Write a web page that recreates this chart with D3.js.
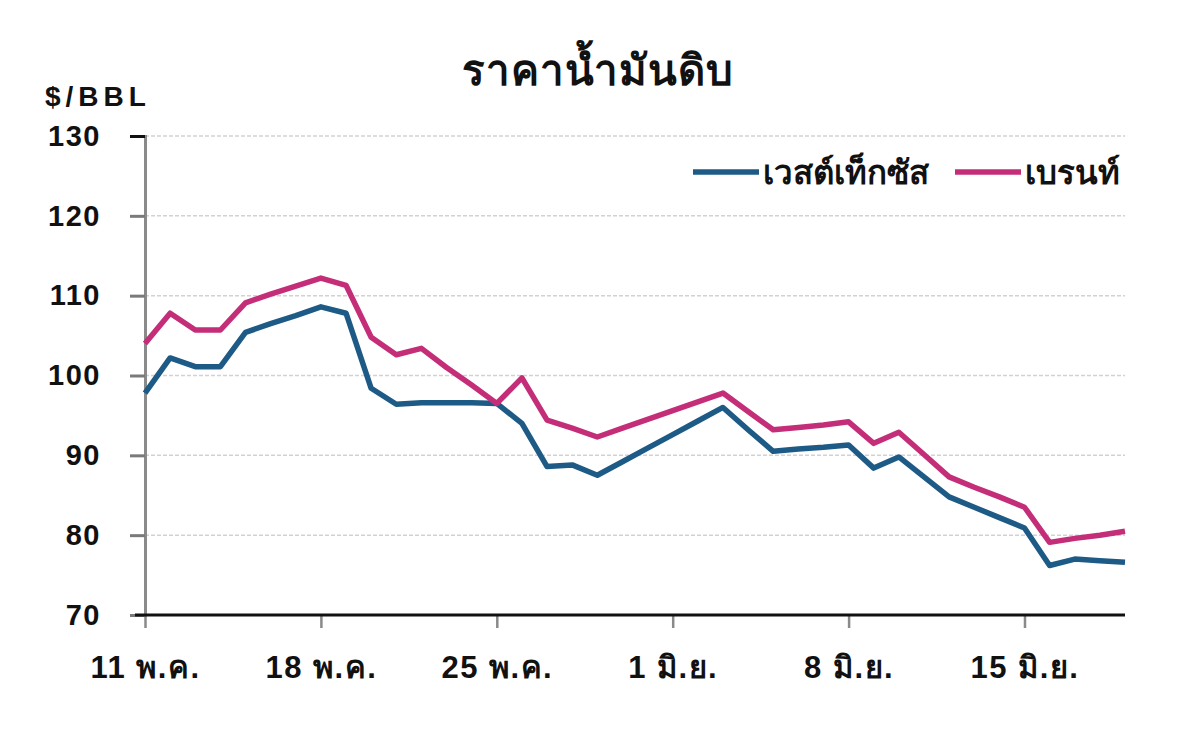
<!DOCTYPE html>
<html>
<head>
<meta charset="utf-8">
<script src="https://cdn.jsdelivr.net/npm/d3@7"></script>
<style>
  body { margin: 0; background: #fff; }
  text { font-family: "Liberation Sans", Arial, "Noto Sans", sans-serif; font-weight: bold; fill: #111; }
</style>
</head>
<body>
<script>
var w = 1200;
var h = 753;

// daily values, 11 May - 19 June
var startDate = new Date(2000, 4, 11);
var wti = [97.8, 102.2, 101.1, 101.1, 105.4, 106.5, 107.5, 108.6, 107.8, 98.4,
  96.4, 96.6, 96.6, 96.6, 96.5, 94.0, 88.6, 88.8, 87.5, 89.2,
  90.9, 92.6, 94.3, 96.0, 93.2, 90.5, 90.8, 91.0, 91.3, 88.4,
  89.8, 87.3, 84.8, 83.5, 82.2, 80.9, 76.2, 77.0, 76.8, 76.6];
var brent = [104.0, 107.8, 105.7, 105.7, 109.1, 110.2, 111.2, 112.2, 111.3, 104.8,
  102.6, 103.4, 101.0, 98.8, 96.5, 99.7, 94.4, 93.4, 92.3, 93.4,
  94.5, 95.6, 96.7, 97.8, 95.5, 93.2, 93.5, 93.8, 94.2, 91.5,
  92.9, 90.1, 87.3, 86.0, 84.8, 83.5, 79.1, 79.6, 80.0, 80.5];
var seriesNames = ["เวสต์เท็กซัส", "เบรนท์"];
var seriesColors = ["#1d5b86", "#c42e78"];
var yTicks = [70, 80, 90, 100, 110, 120, 130];
var xTickLabels = ["11 พ.ค.", "18 พ.ค.", "25 พ.ค.", "1 มิ.ย.", "8 มิ.ย.", "15 มิ.ย."];

var dates = wti.map(function (d, i) {
  return d3.timeDay.offset(startDate, i);
});
var xTickDates = xTickLabels.map(function (d, i) {
  return d3.timeDay.offset(startDate, i * 7);
});

var plotLeft = 145, plotRight = 1125, plotTop = 136, plotBottom = 615;

var xScale = d3.scaleTime()
  .domain([startDate, dates[dates.length - 1]])
  .range([plotLeft, plotRight]);

var yScale = d3.scaleLinear()
  .domain([70, 130])
  .range([plotBottom, plotTop]);

var svg = d3.select("body")
  .append("svg")
  .attr("width", w)
  .attr("height", h);

// title
svg.append("text")
  .attr("x", 598)
  .attr("y", 85)
  .attr("text-anchor", "middle")
  .style("font-size", "42px")
  .style("letter-spacing", "1px")
  .text("ราคาน้ำมันดิบ");

svg.append("text")
  .attr("x", 45)
  .attr("y", 106)
  .style("font-size", "28px")
  .style("letter-spacing", "5px")
  .text("$/BBL");

// grid
svg.selectAll("line.grid")
  .data(yTicks.slice(1))
  .enter()
  .append("line")
  .attr("class", "grid")
  .attr("x1", plotLeft)
  .attr("x2", plotRight)
  .attr("y1", function (d) { return yScale(d); })
  .attr("y2", function (d) { return yScale(d); })
  .attr("stroke", "#d2d2d2")
  .attr("stroke-width", 1.5)
  .attr("stroke-dasharray", "4,2");

// y axis
var yAxis = svg.append("g")
  .attr("transform", "translate(" + plotLeft + ",0)")
  .call(d3.axisLeft(yScale).tickValues(yTicks).tickSize(15).tickPadding(29));
yAxis.select(".domain").attr("stroke", "#8a8a8a").attr("stroke-width", 3);
yAxis.selectAll(".tick line").attr("stroke", "#7a7a7a").attr("stroke-width", 3);
yAxis.select(".tick:last-of-type line").attr("stroke", "#111");
yAxis.selectAll(".tick text")
  .style("font-size", "29px")
  .style("letter-spacing", "1.5px")
  .attr("fill", "#111");

// x axis
var xAxis = svg.append("g")
  .attr("transform", "translate(0," + plotBottom + ")")
  .call(d3.axisBottom(xScale).tickValues(xTickDates).tickSize(13).tickPadding(28)
    .tickFormat(function (d, i) { return xTickLabels[i]; }));
xAxis.select(".domain").remove();
xAxis.selectAll(".tick line").attr("stroke", "#8a8a8a").attr("stroke-width", 2.5);
xAxis.selectAll(".tick text")
  .style("font-size", "31px")
  .style("letter-spacing", "1.5px")
  .attr("fill", "#111");
xAxis.append("line")
  .attr("x1", plotLeft - 10)
  .attr("x2", plotRight)
  .attr("stroke", "#111")
  .attr("stroke-width", 3);

// lines
var line = d3.line()
  .x(function (d, i) { return xScale(dates[i]); })
  .y(function (d) { return yScale(d); });

[wti, brent].forEach(function (s, i) {
  svg.append("path")
    .datum(s)
    .attr("d", line)
    .attr("fill", "none")
    .attr("stroke", seriesColors[i])
    .attr("stroke-width", 5.5)
    .attr("stroke-linejoin", "round");
});

// legend
var legendX = [693, 955];
var legend = svg.selectAll("g.legend")
  .data(seriesNames)
  .enter()
  .append("g")
  .attr("class", "legend")
  .attr("transform", function (d, i) { return "translate(" + legendX[i] + ",172)"; });
legend.append("line")
  .attr("x1", 0)
  .attr("x2", 66)
  .attr("stroke", function (d, i) { return seriesColors[i]; })
  .attr("stroke-width", 5.5);
legend.append("text")
  .attr("x", 70)
  .attr("y", 12)
  .style("font-size", "33px")
  .text(function (d) { return d; });
</script>
</body>
</html>
